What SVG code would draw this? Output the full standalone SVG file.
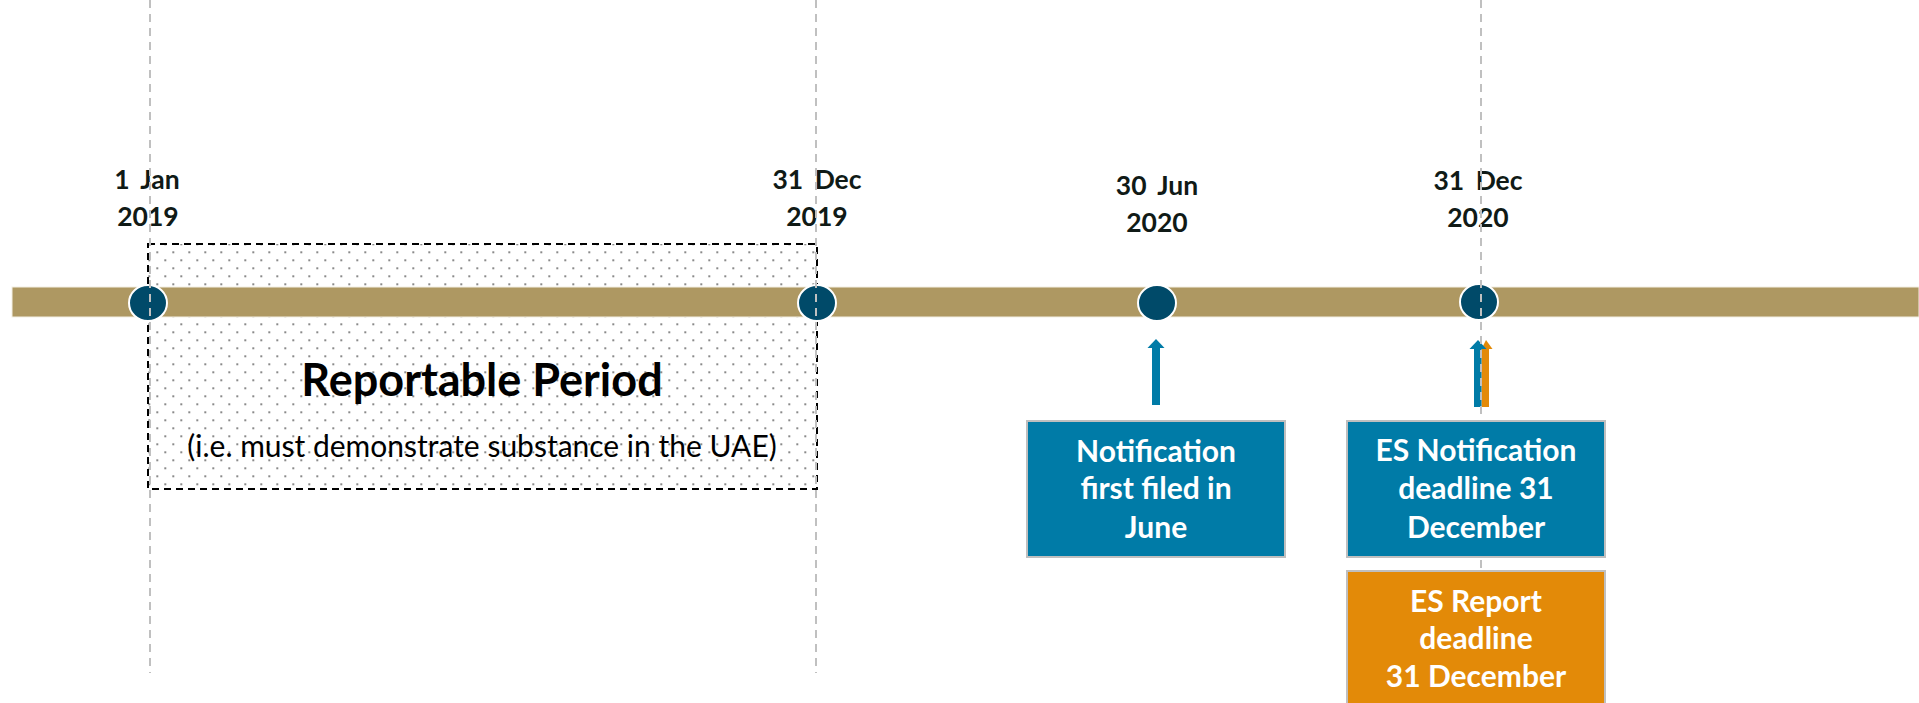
<svg xmlns="http://www.w3.org/2000/svg" width="1919" height="703" viewBox="0 0 1919 703">
<style>
.date{font-family:Lato,"Liberation Sans",sans-serif;font-weight:700;font-size:26.5px;fill:#101a16;text-anchor:middle;word-spacing:5px}
.box{font-family:Lato,"Liberation Sans",sans-serif;font-weight:700;font-size:30px;fill:#ffffff;text-anchor:middle}
.vline{stroke:#c0c0c0;stroke-width:2;stroke-dasharray:8 6;fill:none}
.dot{fill:#004a69;stroke:#ffffff;stroke-width:2}
.bbox{fill:#007ba7;stroke:#bfbfbf;stroke-width:2}
.obox{fill:#e38a08;stroke:#bfbfbf;stroke-width:2}
</style>
<defs>
<pattern id="dots" patternUnits="userSpaceOnUse" width="16" height="16">
<rect x="12.3" y="11.3" width="2" height="2" fill="#8a8a8a"/>
<rect x="4.3" y="3.3" width="2" height="2" fill="#8a8a8a"/>
</pattern>
</defs>
<rect width="1919" height="703" fill="#ffffff"/>

<g id="reportable-period">
<rect x="148" y="244" width="669" height="245" fill="url(#dots)" stroke="#000000" stroke-width="2" stroke-dasharray="7 5"/>
<text x="482" y="396" font-family="Lato,'Liberation Sans',sans-serif" font-weight="700" font-size="45" text-anchor="middle" fill="#000000">Reportable Period</text>
<text x="482" y="457" font-family="Lato,'Liberation Sans',sans-serif" font-size="30" text-anchor="middle" fill="#000000">(i.e. must demonstrate substance in the UAE)</text>
</g>

<g id="timeline">
<rect x="12" y="287" width="1907" height="30" fill="#ae9862" stroke="#f3efe4" stroke-width="1"/>
</g>

<g id="label-1jan2019">
<text class="date" x="147" y="189">1 Jan</text>
<text class="date" x="148" y="226">2019</text>
</g>
<g id="label-31dec2019">
<text class="date" x="817" y="189">31 Dec</text>
<text class="date" x="817" y="226">2019</text>
</g>
<g id="label-30jun2020">
<text class="date" x="1157" y="195">30 Jun</text>
<text class="date" x="1157" y="232">2020</text>
</g>
<g id="label-31dec2020">
<text class="date" x="1478" y="190">31 Dec</text>
<text class="date" x="1478" y="227">2020</text>
</g>

<g id="milestone-1jan2019"><ellipse class="dot" cx="148" cy="303" rx="19" ry="18"/></g>
<g id="milestone-31dec2019"><ellipse class="dot" cx="817" cy="303" rx="19" ry="18"/></g>
<g id="milestone-30jun2020"><ellipse class="dot" cx="1157" cy="303" rx="19" ry="18"/></g>
<g id="milestone-31dec2020"><ellipse class="dot" cx="1479" cy="302" rx="19" ry="18"/></g>

<g id="connectors">
<rect x="1152" y="347" width="8" height="58" fill="#007ba7"/>
<polygon points="1156,339 1147.5,348 1164.5,348" fill="#007ba7"/>
<rect x="1481.5" y="348" width="7.5" height="59" fill="#e38a08"/>
<polygon points="1486,340 1481.5,349 1492.5,349" fill="#e38a08"/>
<rect x="1474" y="348" width="7.5" height="59" fill="#007ba7"/>
<polygon points="1478,340 1469.5,349 1486.5,349" fill="#007ba7"/>
</g>

<g id="gridlines">
<line class="vline" x1="150" y1="0" x2="150" y2="673"/>
<line class="vline" x1="816" y1="0" x2="816" y2="673"/>
<line class="vline" x1="1481" y1="0" x2="1481" y2="673"/>
</g>

<g id="box-notification-june">
<rect class="bbox" x="1027" y="421" width="258" height="136"/>
<text class="box" x="1156" y="462">Notification</text>
<text class="box" x="1156" y="499">first filed in</text>
<text class="box" x="1156" y="538">June</text>
</g>
<g id="box-es-notification">
<rect class="bbox" x="1347" y="421" width="258" height="136"/>
<text class="box" x="1476" y="461">ES Notification</text>
<text class="box" x="1476" y="499">deadline 31</text>
<text class="box" x="1476" y="538">December</text>
</g>
<g id="box-es-report">
<rect class="obox" x="1347" y="571" width="258" height="145"/>
<text class="box" x="1476" y="612">ES Report</text>
<text class="box" x="1476" y="649">deadline</text>
<text class="box" x="1476" y="687">31 December</text>
</g>
</svg>
